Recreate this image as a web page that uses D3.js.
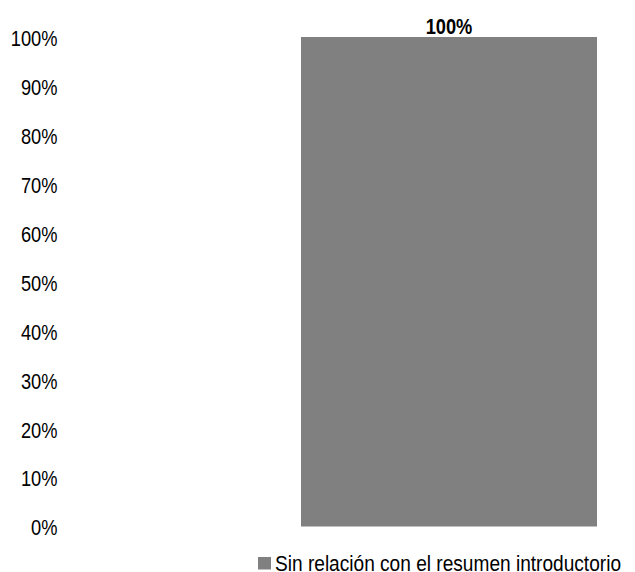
<!DOCTYPE html>
<html>
<head>
<meta charset="utf-8">
<script src="https://cdn.jsdelivr.net/npm/d3@7"></script>
<style>
  html, body { margin: 0; padding: 0; background: #ffffff; }
  svg { display: block; }
  text { font-family: "Liberation Sans", Arial, sans-serif; fill: #000; }
</style>
</head>
<body>
<svg id="chart" width="635" height="572"></svg>
<script>
const categories = ["Sin relación con el resumen introductorio"];
const seriesName = "Sin relación con el resumen introductorio";
const values = [1.0];
const tickValues = [0, 0.1, 0.2, 0.3, 0.4, 0.5, 0.6, 0.7, 0.8, 0.9, 1.0];
const tickLabels = ["0%", "10%", "20%", "30%", "40%", "50%", "60%", "70%", "80%", "90%", "100%"];
const barLabels = ["100%"];

const svg = d3.select("#chart");
const barColor = "#808080";
const narrow = 0.83;
const fontSize = 22;

const y = d3.scaleLinear().domain([0, 1]).range([526.5, 37]);
const x = d3.scaleBand().domain(categories).range([301, 597]).paddingInner(0).paddingOuter(0);

// y tick labels (no axis line, no tick marks)
svg.append("g").selectAll("text")
  .data(tickValues)
  .join("text")
  .attr("transform", d => `translate(57.5,${y(d) + 1}) scale(${narrow},1)`)
  .attr("text-anchor", "end")
  .attr("dy", "0.36em")
  .attr("font-size", fontSize)
  .text((d, i) => tickLabels[i]);

// bars
svg.append("g").selectAll("rect")
  .data(values)
  .join("rect")
  .attr("x", (d, i) => x(categories[i]))
  .attr("width", x.bandwidth())
  .attr("y", d => y(d))
  .attr("height", d => y(0) - y(d))
  .attr("fill", barColor);

// bar value labels
svg.append("g").selectAll("text")
  .data(values)
  .join("text")
  .attr("transform", (d, i) => `translate(${x(categories[i]) + x.bandwidth() / 2},${y(d) - 3.5}) scale(${narrow},1)`)
  .attr("text-anchor", "middle")
  .attr("font-size", fontSize)
  .attr("font-weight", "bold")
  .text((d, i) => barLabels[i]);

// legend
const lg = svg.append("g").attr("transform", "translate(258,557)");
lg.append("rect").attr("x", 0).attr("y", 0).attr("width", 13).attr("height", 12.5).attr("fill", barColor);
lg.append("text")
  .attr("x", 17)
  .attr("y", 13.5)
  .attr("font-size", fontSize)
  .attr("textLength", 346)
  .attr("lengthAdjust", "spacingAndGlyphs")
  .text(seriesName);
</script>
</body>
</html>
